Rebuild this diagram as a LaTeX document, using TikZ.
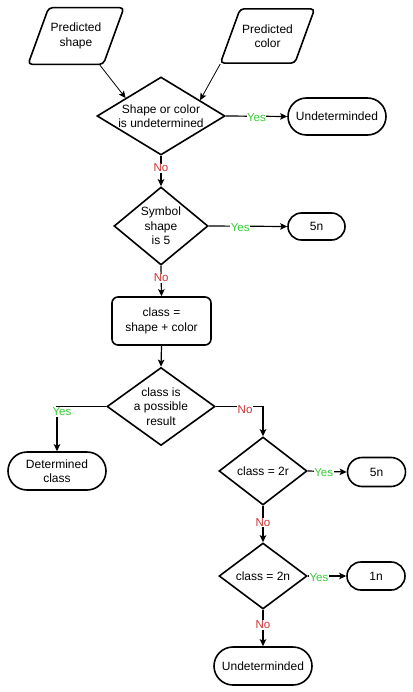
\documentclass[tikz,border=0pt]{standalone}
\usepackage{fontspec}
\setmainfont{Liberation Sans}
\usetikzlibrary{arrows.meta}
\usetikzlibrary{shapes.geometric}
\usetikzlibrary{shapes.misc}

\definecolor{yesgreen}{RGB}{51,204,51}
\definecolor{nored}{RGB}{204,51,51}

\begin{document}
\begin{tikzpicture}[x=1pt,y=-1pt,
    font=\fontsize{12}{14.5}\selectfont,
    >={Stealth[length=7pt,width=6.5pt,inset=1.5pt]},
    io/.style={draw,line width=1.6pt,trapezium,trapezium left angle=70,
      trapezium right angle=110,rounded corners=4pt,
      align=center,inner xsep=2pt,inner ysep=15.5pt},
    decision/.style={draw,line width=1.6pt,diamond,align=center,inner sep=0pt},
    terminal/.style={draw,line width=1.6pt,rounded rectangle,align=center,inner sep=0pt},
    process/.style={draw,line width=1.6pt,rectangle,rounded corners=6pt,align=center,inner sep=0pt},
    flow/.style={->,line width=1.2pt},
    yes/.style={text=yesgreen,fill=white,font=\fontsize{11.5}{13}\selectfont,inner sep=0.5pt,yshift=-1.5pt},
    no/.style={text=nored,fill=white,font=\fontsize{11.5}{13}\selectfont,inner sep=0.5pt,yshift=-1pt}]
    \useasboundingbox (0,0) rectangle (412,692);

    % inputs
    \node[io] (pshape) at (76,36) {Predicted\\shape};
    \node[io] (pcolor) at (267.5,36) {Predicted\\color};

    % first checks
    \node[decision,aspect=1.625,minimum width=128pt,minimum height=78pt] (undet) at (161,116) {Shape or color\\is undetermined};
    \node[terminal,minimum width=98pt,minimum height=37pt] (outundet) at (337,116.5) {Undeterminded};
    \node[decision,aspect=1.2,minimum width=94pt,minimum height=78pt] (symb) at (161,226) {Symbol\\shape\\is 5};
    \node[terminal,minimum width=57pt,minimum height=27pt] (out5n) at (316.5,226.5) {5n};

    % class
    \node[process,minimum width=99pt,minimum height=48pt] (cls) at (161.5,321) {class =\\shape + color};
    \node[decision,aspect=1.375,minimum width=108pt,minimum height=78pt] (poss) at (161,406.5) {class is\\a possible\\result};
    \node[terminal,minimum width=98pt,minimum height=38pt] (outdet) at (57,471) {Determined\\class};

    % remaining classes
    \node[decision,aspect=1.29,minimum width=88pt,minimum height=68pt] (twor) at (263,471) {class = 2r};
    \node[terminal,minimum width=58pt,minimum height=29pt] (out5nb) at (376.5,472) {5n};
    \node[decision,aspect=1.32,minimum width=88pt,minimum height=66pt] (twon) at (263,576) {class = 2n};
    \node[terminal,minimum width=58pt,minimum height=28pt] (out1n) at (376,576) {1n};
    \node[terminal,minimum width=98pt,minimum height=38pt] (outundetb) at (263,666) {Undeterminded};

    % connectors
    \draw[->,line width=0.8pt] ([xshift=-4pt]pshape.bottom right corner) -- (undet.153);
    \draw[->,line width=0.8pt] ([xshift=1pt]pcolor.bottom left corner) -- (undet.22);
    \draw[flow] (undet.east) -- node[yes,pos=0.5] {Yes} (outundet.west);
    \draw[flow] (undet.south) -- node[no,pos=0.37] {No} (symb.north);
    \draw[flow] (symb.east) -- node[yes,pos=0.4] {Yes} (out5n.west);
    \draw[flow] (symb.south) -- node[no,pos=0.37] {No} (cls.north);
    \draw[flow] (cls.south) -- (poss.north);
    \draw[flow] (poss.west) -| node[yes,pos=0.5,xshift=5pt,yshift=-4pt] {Yes} (outdet.north);
    \draw[flow] (poss.east) -| node[no,pos=0.31,yshift=-2pt] {No} (twor.north);
    \draw[flow] (twor.east) -- node[yes,pos=0.41] {Yes} (out5nb.west);
    \draw[flow] (twor.south) -- node[no,pos=0.44] {No} (twon.north);
    \draw[flow] (twon.east) -- node[yes,pos=0.29] {Yes} (out1n.west);
    \draw[flow] (twon.south) -- node[no,pos=0.39] {No} (outundetb.north);
\end{tikzpicture}
\end{document}
